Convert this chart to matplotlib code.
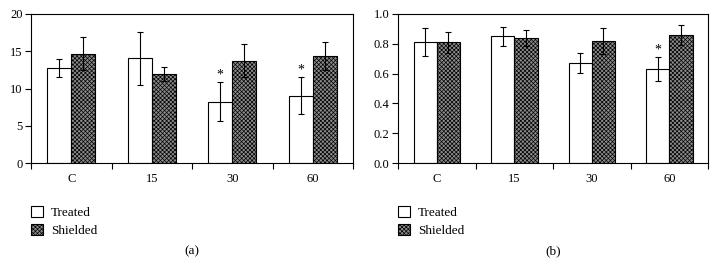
import matplotlib
matplotlib.use("Agg")
import matplotlib.pyplot as plt
import numpy as np
from matplotlib.patches import Patch

plt.rcParams['font.family'] = ['Liberation Serif', 'DejaVu Serif']
plt.rcParams['hatch.linewidth'] = 0.5
plt.rcParams['hatch.color'] = '#5e5e5e'

categories = ['C', '15', '30', '60']

a_treated = [12.75, 14.05, 8.25, 9.05]
a_treated_err = [1.25, 3.55, 2.65, 2.45]
a_shielded = [14.65, 11.95, 13.75, 14.4]
a_shielded_err = [2.2, 0.95, 2.2, 1.85]
a_star = [False, False, True, True]

b_treated = [0.813, 0.849, 0.671, 0.629]
b_treated_err = [0.092, 0.066, 0.068, 0.082]
b_shielded = [0.809, 0.838, 0.82, 0.86]
b_shielded_err = [0.068, 0.052, 0.089, 0.069]
b_star = [False, False, False, True]

fig = plt.figure(figsize=(7.16, 2.66), dpi=100)
W, H = 716, 266
ax1 = fig.add_axes([31 / W, 1 - 163 / H, (353 - 31) / W, (163 - 14) / H])
ax2 = fig.add_axes([398 / W, 1 - 163 / H, (708 - 398) / W, (163 - 14) / H])

bw = 0.3
fs = 9
gray = '#8c8c8c'
hatch = 'xxxxxxxx'


def draw(ax, tr, tre, sh, she, star, ylim, yticks, ytl, letter, leg_x):
    x = np.arange(len(categories)) + 0.5
    ax.bar(x - bw / 2, tr, bw, color='white', edgecolor='black', linewidth=0.8, zorder=2)
    ax.bar(x + bw / 2, sh, bw, color=gray, edgecolor='black', linewidth=0.8,
           hatch=hatch, zorder=2)
    ax.errorbar(x - bw / 2, tr, yerr=tre, fmt='none', ecolor='black', elinewidth=0.8,
                capsize=2, capthick=0.8, zorder=3)
    ax.errorbar(x + bw / 2, sh, yerr=she, fmt='none', ecolor='black', elinewidth=0.8,
                capsize=2, capthick=0.8, zorder=3)
    span = ylim[1] - ylim[0]
    for xi, v, e, s in zip(x, tr, tre, star):
        if s:
            ax.text(xi - bw / 2, v + e + 0.005 * span, '*', ha='center', va='bottom',
                    fontsize=fs + 1)
    ax.set_xlim(0, len(categories))
    ax.set_ylim(*ylim)
    ax.set_yticks(yticks)
    ax.set_yticklabels(ytl, fontsize=fs)
    ax.set_xticks(np.arange(len(categories) + 1))
    ax.set_xticklabels([])
    ax.set_xticks(x, minor=True)
    ax.set_xticklabels(categories, minor=True, fontsize=fs)
    ax.tick_params(axis='x', which='minor', length=0, pad=7)
    ax.tick_params(axis='x', which='major', length=4, width=0.8, direction='out')
    ax.tick_params(axis='y', length=4, width=0.8, direction='out', pad=2)
    for sp in ax.spines.values():
        sp.set_linewidth(0.8)
    handles = [Patch(facecolor='white', edgecolor='black', linewidth=0.8, label='Treated'),
               Patch(facecolor=gray, edgecolor='black', linewidth=0.8, hatch=hatch,
                     label='Shielded')]
    fig.legend(handles=handles, loc='upper left', bbox_to_anchor=(leg_x / W, 1 - 206 / H),
               frameon=False, fontsize=fs + 0.5, handlelength=0.9, handleheight=0.9,
               handletextpad=0.6, labelspacing=0.35, borderpad=0, borderaxespad=0)
    cx = ax.get_position().x0 + ax.get_position().width / 2
    fig.text(cx, 1 - 251 / H, letter, ha='center', va='center', fontsize=fs + 0.5)


draw(ax1, a_treated, a_treated_err, a_shielded, a_shielded_err, a_star,
     (0, 20), [0, 5, 10, 15, 20], ['0', '5', '10', '15', '20'], '(a)', 31)
draw(ax2, b_treated, b_treated_err, b_shielded, b_shielded_err, b_star,
     (0, 1.0), [0, 0.2, 0.4, 0.6, 0.8, 1.0], ['0.0', '0.2', '0.4', '0.6', '0.8', '1.0'],
     '(b)', 398)

fig.savefig('out.png', dpi=100)
